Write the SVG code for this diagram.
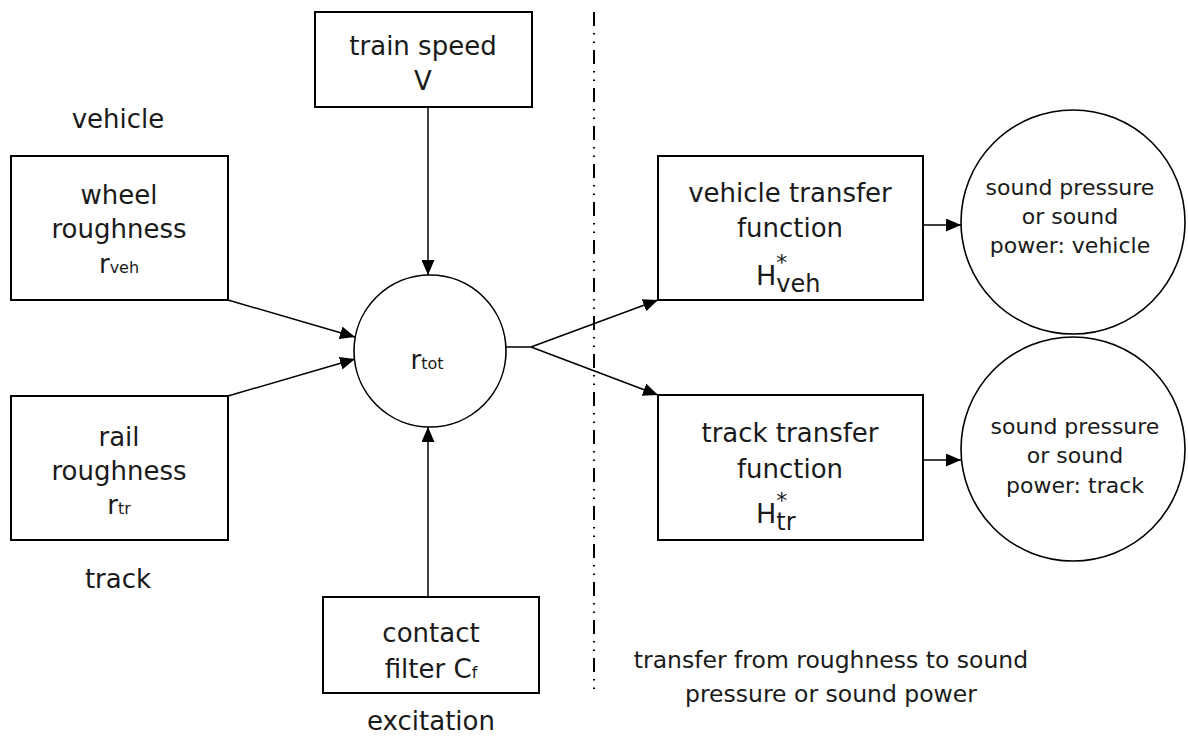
<svg xmlns="http://www.w3.org/2000/svg" width="1188" height="738" viewBox="0 0 1188 738">
  <style>
    .box { fill: #ffffff; stroke: #000000; stroke-width: 2; }
    .node { fill: #ffffff; stroke: #000000; stroke-width: 1.6; }
    .wire { fill: none; stroke: #000000; stroke-width: 1.5; }
    .arrow { fill: none; stroke: #000000; stroke-width: 1.5; marker-end: url(#head); }
    .divider { fill: none; stroke: #000000; stroke-width: 2; stroke-dasharray: 14 7 1.5 7 1.5 7; }
    text { font-family: "DejaVu Sans", "Liberation Sans", sans-serif; fill: #1a1a1a; text-anchor: middle; }
    .big { font-size: 26px; }
    .note { font-size: 23.5px; }
    .mid { font-size: 22px; }
    .sub { font-size: 16px; }
    .sym { font-size: 27px; text-anchor: start; }
  </style>
  <defs>
    <marker id="head" markerWidth="15" markerHeight="13" refX="15" refY="6.5" orient="auto" markerUnits="userSpaceOnUse">
      <path d="M0,0 L15,6.5 L0,13 Z" fill="#000000"/>
    </marker>
  </defs>

  <rect width="1188" height="738" fill="#ffffff"/>

  <!-- section divider between excitation and transfer -->
  <line class="divider" x1="594" y1="12" x2="594" y2="690"/>

  <!-- free labels -->
  <text class="big" x="118" y="128">vehicle</text>
  <text class="big" x="118" y="588">track</text>
  <text class="big" x="431" y="730">excitation</text>
  <text class="note" x="831" y="668">transfer from roughness to sound</text>
  <text class="note" x="831" y="702">pressure or sound power</text>

  <g id="connectors">
    <line class="arrow" x1="428" y1="107" x2="428" y2="275"/>
    <line class="arrow" x1="428" y1="597" x2="428" y2="427"/>
    <line class="arrow" x1="228" y1="300" x2="355" y2="337"/>
    <line class="arrow" x1="228" y1="396" x2="355" y2="359"/>
    <line class="wire" x1="506" y1="347" x2="531" y2="347"/>
    <line class="arrow" x1="531" y1="347" x2="658" y2="300"/>
    <line class="arrow" x1="531" y1="347" x2="658" y2="395"/>
    <line class="arrow" x1="923" y1="225" x2="961" y2="225"/>
    <line class="arrow" x1="923" y1="460" x2="961" y2="460"/>
  </g>

  <g id="train-speed">
    <rect class="box" x="315" y="12" width="217" height="95"/>
    <text class="big" x="423" y="55">train speed</text>
    <text class="big" x="423" y="90">V</text>
  </g>

  <g id="wheel-roughness">
    <rect class="box" x="11" y="156" width="217" height="144"/>
    <text class="big" x="119" y="204">wheel</text>
    <text class="big" x="119" y="238">roughness</text>
    <text class="big" x="119" y="273">r<tspan class="sub">veh</tspan></text>
  </g>

  <g id="rail-roughness">
    <rect class="box" x="11" y="396" width="217" height="144"/>
    <text class="big" x="119" y="446">rail</text>
    <text class="big" x="119" y="480">roughness</text>
    <text class="big" x="119" y="514">r<tspan class="sub">tr</tspan></text>
  </g>

  <g id="total-roughness">
    <circle class="node" cx="430" cy="351" r="76"/>
    <text class="big" x="427" y="369">r<tspan class="sub">tot</tspan></text>
  </g>

  <g id="contact-filter">
    <rect class="box" x="323" y="597" width="216" height="96"/>
    <text class="big" x="431" y="642">contact</text>
    <text class="big" x="431" y="678">filter C<tspan class="sub">f</tspan></text>
  </g>

  <g id="vehicle-transfer">
    <rect class="box" x="658" y="156" width="265" height="144"/>
    <text class="big" x="790" y="202">vehicle transfer</text>
    <text class="big" x="790" y="237">function</text>
    <text class="sym" x="756" y="285">H<tspan style="font-size:22px" dy="-15">*</tspan><tspan style="font-size:24px" dx="-11" dy="22">veh</tspan></text>
  </g>

  <g id="track-transfer">
    <rect class="box" x="658" y="395" width="265" height="145"/>
    <text class="big" x="790" y="442">track transfer</text>
    <text class="big" x="790" y="478">function</text>
    <text class="sym" x="756" y="523">H<tspan style="font-size:22px" dy="-15">*</tspan><tspan style="font-size:24px" dx="-11" dy="22">tr</tspan></text>
  </g>

  <g id="sound-vehicle">
    <circle class="node" cx="1073" cy="222" r="112"/>
    <text class="mid" x="1070" y="195">sound pressure</text>
    <text class="mid" x="1070" y="224">or sound</text>
    <text class="mid" x="1070" y="253">power: vehicle</text>
  </g>

  <g id="sound-track">
    <circle class="node" cx="1073" cy="449" r="112"/>
    <text class="mid" x="1075" y="434">sound pressure</text>
    <text class="mid" x="1075" y="463">or sound</text>
    <text class="mid" x="1075" y="493">power: track</text>
  </g>
</svg>
